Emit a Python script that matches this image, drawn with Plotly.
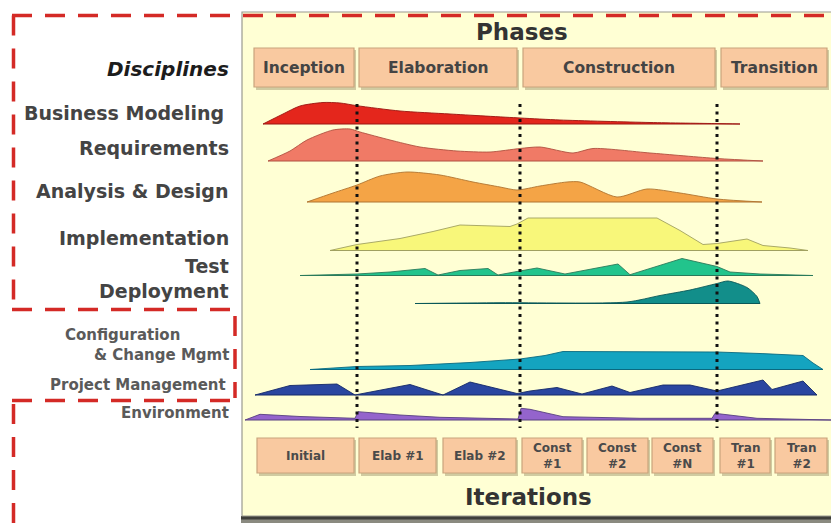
import plotly.graph_objects as go

# ---------------- data ----------------
phases = ["Inception", "Elaboration", "Construction", "Transition"]
phase_bounds = [(254, 354), (359, 517), (523, 715), (721, 827)]
phase_dividers = [357, 520, 717]

iterations = ["Initial", "Elab #1", "Elab #2", "Const<br>#1", "Const<br>#2",
              "Const<br>#N", "Tran<br>#1", "Tran<br>#2"]
iteration_bounds = [(257, 354), (359, 436), (443, 516), (522, 582), (587, 648),
                    (652, 713), (720, 770), (775, 827)]

disciplines = ["Business Modeling", "Requirements", "Analysis & Design",
               "Implementation", "Test", "Deployment",
               "Configuration & Change Mgmt", "Project Management", "Environment"]

bm_x = [263, 283, 300, 323, 340, 357, 400, 450, 520, 560, 650, 717, 740]
bm_h = [0, 10, 18, 21.5, 21, 18.3, 13, 10, 6, 4, 1.5, 0.4, 0]

rq_x = [268, 290, 307, 333, 350, 360, 390, 420, 457, 490, 520, 540, 573, 593, 650, 717, 763]
rq_h = [0, 10, 21, 31, 32, 29, 21, 14, 10, 9, 12.5, 14, 8, 12.5, 8, 2.5, 0]

ad_x = [307, 333, 357, 380, 407, 440, 473, 500, 517, 540, 567, 580, 617, 647, 680, 717, 762]
ad_h = [0, 9, 17, 26, 30, 27, 20, 15, 12, 16, 20, 20, 5, 13, 9, 3, 0]

im_x = [330, 357, 400, 433, 460, 493, 510, 517, 528, 657, 680, 703, 717, 747, 763, 790, 808]
im_h = [0, 6, 12, 19, 25.5, 24.5, 24, 26.5, 32.5, 32.5, 20, 6, 7, 11.5, 5, 2.5, 0]

ts_x = [300, 357, 390, 425, 438, 460, 488, 498, 517, 537, 565, 618, 630, 682, 717, 730, 760, 813]
ts_h = [0, 1.5, 3.5, 7, 0.5, 5, 7, 0.5, 4, 7.5, 1.5, 11.5, 0.8, 17, 9, 3.5, 1.5, 0]

dp_x = [415, 500, 627, 660, 690, 717, 728, 747, 757, 760]
dp_h = [0, 0.8, 1.5, 8, 13.5, 20, 22.5, 16, 7, 0]

cm_x = [310, 357, 410, 470, 520, 545, 563, 640, 717, 760, 803, 813, 823]
cm_h = [0, 3, 4, 7, 10.5, 14, 18, 18, 17.5, 16, 14, 6.5, 0]

pm_x = [255, 290, 337, 355, 360, 410, 443, 470, 517, 530, 557, 582, 612, 630, 663, 690,
        717, 763, 772, 803, 817]
pm_h = [0, 9.5, 11, 0, 1, 10.5, 0, 13, 1.5, 4, 7.5, 1, 9, 2.5, 10, 10, 4, 15, 5.5, 14, 0]

en_x = [245, 260, 300, 355, 358, 400, 440, 518, 521, 530, 563, 640, 712, 715, 757, 831]
en_h = [0, 5.7, 3.5, 1.7, 8.3, 5, 2.7, 1, 11.7, 10.7, 3.3, 1.7, 1.7, 6.7, 1.7, 0]

# ---------------- styles / layout positions ----------------
series = [
    (bm_x, bm_h, 124, "#E4261C", "#9A1410", "spline"),
    (rq_x, rq_h, 161, "#F07A66", "#B05040", "spline"),
    (ad_x, ad_h, 202, "#F4A446", "#B07430", "spline"),
    (im_x, im_h, 250.5, "#F8F77A", "#A0A060", "linear"),
    (ts_x, ts_h, 275.5, "#22C48C", "#2A7A5A", "linear"),
    (dp_x, dp_h, 303.5, "#128E8A", "#0A5858", "spline"),
    (cm_x, cm_h, 369.5, "#14A4C0", "#0A6A80", "linear"),
    (pm_x, pm_h, 395, "#2A46A0", "#142868", "linear"),
    (en_x, en_h, 420, "#9464CC", "#584080", "linear"),
]

label_pos = [(226, 113), (231, 148), (231, 191), (231, 238), (231, 266), (231, 291)]

fig = go.Figure()

shapes = []
# panel
shapes.append(dict(type="rect", x0=241, x1=845, y0=516, y1=523, line=dict(width=0),
                   fillcolor="#8a8a80", layer="below"))
shapes.append(dict(type="rect", x0=241, x1=845, y0=516, y1=519.5, line=dict(width=0),
                   fillcolor="#3e3e3a", layer="below"))
shapes.append(dict(type="rect", x0=242, x1=845, y0=12, y1=516,
                   line=dict(color="#9a9a90", width=1.2), fillcolor="#FFFFD4", layer="below"))

# phase boxes
for (a, b) in phase_bounds:
    shapes.append(dict(type="rect", x0=a + 2, x1=b + 2, y0=50, y1=90, line=dict(width=0),
                       fillcolor="rgba(150,140,100,0.45)", layer="below"))
    shapes.append(dict(type="rect", x0=a, x1=b, y0=48, y1=87,
                       line=dict(color="#C9A47C", width=1.2), fillcolor="#F9C9A0", layer="below"))
# iteration boxes
for (a, b) in iteration_bounds:
    shapes.append(dict(type="rect", x0=a + 2, x1=b + 2, y0=440, y1=476, line=dict(width=0),
                       fillcolor="rgba(150,140,100,0.45)", layer="below"))
    shapes.append(dict(type="rect", x0=a, x1=b, y0=438, y1=473,
                       line=dict(color="#C9A47C", width=1.2), fillcolor="#F9C9A0", layer="below"))

fig.update_layout(shapes=shapes)

# humps
for i, (xs, hs, base, fc, lc, shp) in enumerate(series):
    fig.add_trace(go.Scatter(x=[xs[0], xs[-1]], y=[base, base], mode="lines",
                             line=dict(width=0, color=lc), hoverinfo="skip", showlegend=False))
    fig.add_trace(go.Scatter(x=xs, y=[base - h for h in hs], mode="lines", fill="tonexty",
                             fillcolor=fc, line=dict(color=lc, width=0.9, shape=shp, smoothing=0.7),
                             name=disciplines[i], showlegend=False))
    fig.add_trace(go.Scatter(x=[xs[0], xs[-1]], y=[base, base], mode="lines",
                             line=dict(width=1.2, color=lc), hoverinfo="skip", showlegend=False))

# phase dividers (dotted)
for xd in phase_dividers:
    fig.add_shape(type="line", x0=xd, x1=xd, y0=104, y1=428,
                  line=dict(color="#111111", width=3, dash="3px,4.5px"))

# red dashed outline
red = dict(color="#D42A26", width=3.5, dash="20px,13px")
for (x0, y0, x1, y1) in [(12, 15.5, 835, 15.5), (13.5, 15.5, 13.5, 309), (12, 309.5, 234, 309.5),
                         (235, 316, 235, 398), (12, 400.5, 234, 400.5), (13.5, 404, 13.5, 530)]:
    fig.add_shape(type="line", x0=x0, y0=y0, x1=x1, y1=y1, line=red)

ann = []
F = "DejaVu Sans"
ann.append(dict(x=522, y=32, text="<b>Phases</b>", font=dict(family=F, size=23, color="#333333")))
ann.append(dict(x=528, y=497, text="<b>Iterations</b>", font=dict(family=F, size=23, color="#333333")))
for name, (a, b) in zip(phases, phase_bounds):
    ann.append(dict(x=(a + b) / 2, y=68, text="<b>%s</b>" % name,
                    font=dict(family=F, size=15.5, color="#444444")))
for name, (a, b) in zip(iterations, iteration_bounds):
    ann.append(dict(x=(a + b) / 2, y=456, text="<b>%s</b>" % name,
                    font=dict(family=F, size=12, color="#4a4a4a")))
ann.append(dict(x=231, y=69, xanchor="right", text="<b><i>Disciplines</i></b>",
                font=dict(family=F, size=20, color="#1c1c1c")))
for name, (lx, ly) in zip(disciplines[:6], label_pos):
    ann.append(dict(x=lx, y=ly, xanchor="right", text="<b>%s</b>" % name,
                    font=dict(family=F, size=19, color="#444444")))
small = dict(family=F, size=15, color="#5a5a5a")
ann.append(dict(x=63, y=335, xanchor="left", text="<b>Configuration</b>", font=small))
ann.append(dict(x=231, y=355, xanchor="right", text="<b>&amp; Change Mgmt</b>", font=small))
ann.append(dict(x=228, y=385, xanchor="right", text="<b>Project Management</b>", font=small))
ann.append(dict(x=231, y=413, xanchor="right", text="<b>Environment</b>", font=small))
for a in ann:
    a.setdefault("xanchor", "center")
    a.update(xref="x", yref="y", yanchor="middle", showarrow=False)
fig.update_layout(annotations=ann)

fig.update_layout(
    width=831, height=527, margin=dict(l=0, r=0, t=0, b=0),
    paper_bgcolor="white", plot_bgcolor="white",
    xaxis=dict(range=[0, 831], visible=False, fixedrange=True),
    yaxis=dict(range=[527, 0], visible=False, fixedrange=True),
    showlegend=False,
)
fig.write_html("out.html", config={"displayModeBar": False},
               post_script="document.body.style.margin='0';document.body.style.overflow='hidden';")
